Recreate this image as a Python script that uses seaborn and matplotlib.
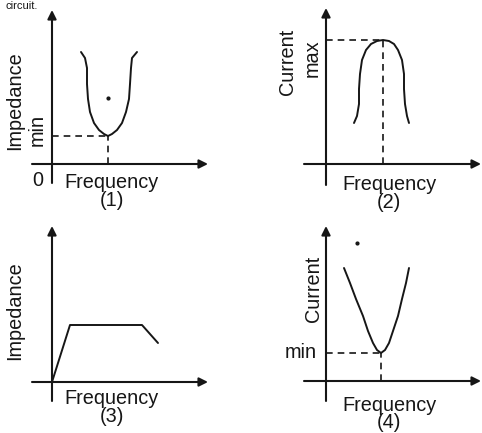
import numpy as np
import pandas as pd
import matplotlib
matplotlib.use('Agg')
import matplotlib.pyplot as plt
import seaborn as sns

# curve points, (frequency, y) relative to each origin, in pixels
imp_u_freq = [29, 33, 35, 35, 36, 38, 42, 47, 52, 56, 60, 65, 70, 74, 77, 78, 79, 80, 85]
imp_u_val = [112, 106, 96, 80, 65, 52, 41, 34, 30, 28, 30, 34, 41, 52, 65, 80, 96, 106, 112]

cur_peak_freq = [28, 31, 33, 33, 34, 36, 40, 45, 51, 57, 63, 68, 72, 76, 78, 78, 79, 81, 83]
cur_peak_val = [41, 48, 60, 75, 90, 104, 114, 120, 123, 124, 123, 120, 114, 104, 90, 75, 60, 48, 41]

imp_flat_freq = [0, 18, 90, 106]
imp_flat_val = [0, 57, 57, 39]

cur_v_freq = [18, 24, 30, 37, 42, 47, 51, 55, 59, 63, 67, 72, 76, 80, 83]
cur_v_val = [113, 98, 82, 65, 50, 38, 31, 28, 31, 38, 50, 65, 82, 98, 113]

# resonance marks (frequency, level)
res_marks = [(56, 28), (57, 124), None, (55, 28)]
y_labels = ['Impedance', 'Current', 'Impedance', 'Current']
level_labels = ['min', 'max', None, 'min']
panel_nums = ['(1)', '(2)', '(3)', '(4)']

# panel boxes (x0, y0, w, h) and axis origins in figure pixels
W, H = 482, 433
boxes = [(0, 0, 241, 216), (241, 0, 241, 216), (0, 216, 241, 217), (241, 216, 241, 217)]
origins = [(52, 164), (326, 164), (52, 382), (326, 381)]
x_axis_span = [(-20, 156), (-22, 155), (-20, 156), (-22, 155)]
y_axis_span = [(-19, 154), (-21, 156), (-19, 156), (-20, 155)]

sns.set_style('white')
plt.rcParams['font.family'] = ['Liberation Sans', 'DejaVu Sans']
ink = '#161616'

fig = plt.figure(figsize=(W / 100, H / 100), dpi=100)
curves = [(imp_u_freq, imp_u_val), (cur_peak_freq, cur_peak_val),
          (imp_flat_freq, imp_flat_val), (cur_v_freq, cur_v_val)]

axes = []
for i, ((x0, y0, w, h), (ox, oy)) in enumerate(zip(boxes, origins)):
    ax = fig.add_axes([x0 / W, 1 - (y0 + h) / H, w / W, h / H])
    ax.set_xlim(x0 - ox, x0 + w - ox)
    ax.set_ylim(oy - (y0 + h), oy - y0)
    ax.axis('off')
    axes.append(ax)

    # axes with arrow heads
    xa, xb = x_axis_span[i]
    ya, yb = y_axis_span[i]
    ax.annotate('', xy=(xb, 0), xytext=(xa, 0),
                arrowprops=dict(arrowstyle='-|>', lw=1.5, color=ink, mutation_scale=13,
                                shrinkA=0, shrinkB=0))
    ax.annotate('', xy=(0, yb), xytext=(0, ya),
                arrowprops=dict(arrowstyle='-|>', lw=1.5, color=ink, mutation_scale=13,
                                shrinkA=0, shrinkB=0))

    fx, fy = curves[i]
    df = pd.DataFrame({'freq': fx, 'val': fy})
    sns.lineplot(data=df, x='freq', y='val', sort=False, estimator=None,
                 color=ink, lw=1.4, ax=ax)

    if res_marks[i] is not None:
        rf, rv = res_marks[i]
        ax.plot([0, rf], [rv, rv], ls=(0, (4, 3)), color=ink, lw=1.2)
        ax.plot([rf, rf], [0, rv], ls=(0, (4, 3)), color=ink, lw=1.2)

fs = 14.3
# panel 1
a = axes[0]
a.text(-37, 63, y_labels[0], rotation=90, ha='center', va='center', fontsize=fs, color=ink)
a.text(-15, 34, level_labels[0], rotation=90, ha='center', va='center', fontsize=fs, color=ink)
a.text(-14, -16, '0', ha='center', va='center', fontsize=fs, color=ink)
a.text(60, -24, 'Frequency', ha='center', va='baseline', fontsize=fs, color=ink)
a.text(60, -37, panel_nums[0], ha='center', va='center', fontsize=fs, color=ink)
a.plot([56], [66], 'o', ms=2, color=ink)
# panel 2
a = axes[1]
a.text(-38, 102, y_labels[1], rotation=90, ha='center', va='center', fontsize=fs, color=ink)
a.text(-14, 106, level_labels[1], rotation=90, ha='center', va='center', fontsize=fs, color=ink)
a.text(63, -26, 'Frequency', ha='center', va='baseline', fontsize=fs, color=ink)
a.text(63, -39, panel_nums[1], ha='center', va='center', fontsize=fs, color=ink)
# panel 3
a = axes[2]
a.text(-37, 71, y_labels[2], rotation=90, ha='center', va='center', fontsize=fs, color=ink)
a.text(60, -22, 'Frequency', ha='center', va='baseline', fontsize=fs, color=ink)
a.text(60, -35, panel_nums[2], ha='center', va='center', fontsize=fs, color=ink)
# panel 4
a = axes[3]
a.text(-13, 92, y_labels[3], rotation=90, ha='center', va='center', fontsize=fs, color=ink)
a.text(-25, 28, level_labels[3], ha='center', va='center', fontsize=fs, color=ink)
a.text(63, -30, 'Frequency', ha='center', va='baseline', fontsize=fs, color=ink)
a.text(63, -42, panel_nums[3], ha='center', va='center', fontsize=fs, color=ink)
a.plot([31], [138], 'o', ms=2, color=ink)

# caption line at the very top (cropped in the scan), kept small so it fits
fig.text(6 / W, 1 - 9 / H, 'circuit.', ha='left', va='baseline', fontsize=8, color=ink)

fig.savefig('out.png', dpi=100)
